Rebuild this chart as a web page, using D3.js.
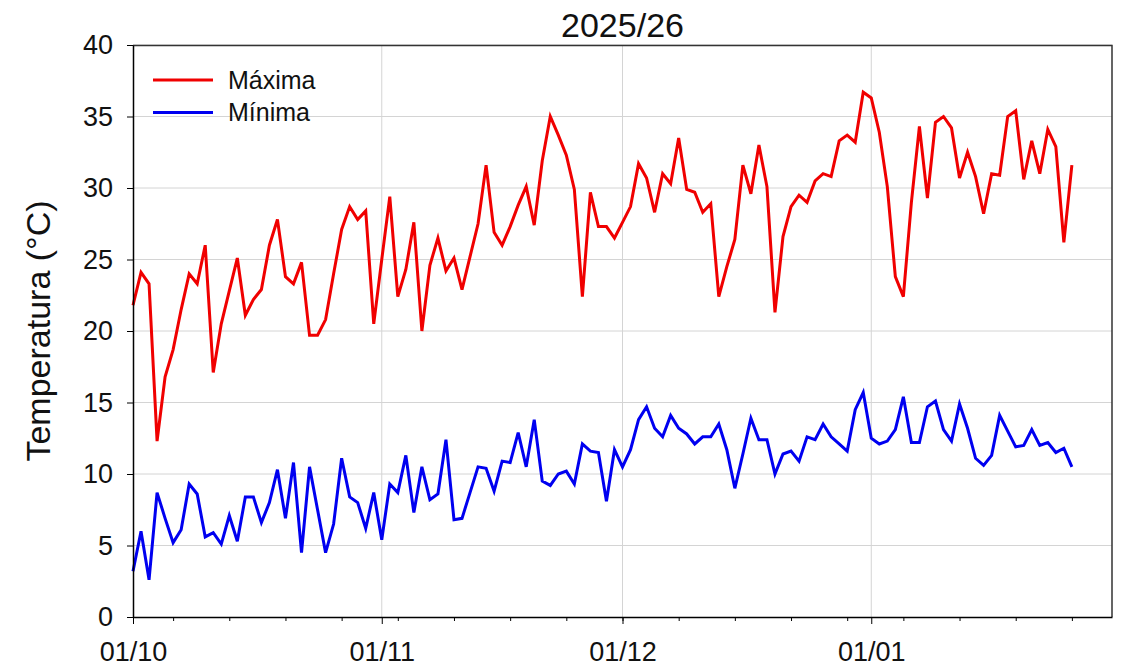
<!DOCTYPE html>
<html>
<head>
<meta charset="utf-8">
<script src="https://cdn.jsdelivr.net/npm/d3@7"></script>
<style>
  body { margin: 0; background: #fff; }
  svg { font-family: "Liberation Sans", Arial, sans-serif; }
  .grid line { stroke: #d4d4d4; stroke-width: 1; }
  .axis path, .axis line { stroke: #000; }
</style>
</head>
<body>
<div id="plotDiv"></div>
<script>
// daily series starting 01/10/2025
var startDate = "2025-10-01";
var endDate = "2026-01-31";

var tmax = [21.8, 24.1, 23.3, 12.3, 16.8, 18.7, 21.5, 24.0, 23.3, 26.0,
            17.1, 20.5, 22.8, 25.1, 21.1, 22.2, 22.9, 26.0, 27.8, 23.8,
            23.3, 24.8, 19.7, 19.7, 20.8, 24.0, 27.1, 28.7, 27.8, 28.4,
            20.5, 25.0, 29.4, 22.4, 24.3, 27.6, 20.0, 24.6, 26.5, 24.2,
            25.1, 22.9, 25.2, 27.5, 31.6, 26.9, 26.0, 27.3, 28.8, 30.1,
            27.4, 31.9, 35.0, 33.7, 32.3, 29.9, 22.4, 29.7, 27.3, 27.3,
            26.5, 27.6, 28.7, 31.7, 30.7, 28.3, 31.0, 30.3, 33.5, 29.9,
            29.7, 28.3, 28.9, 22.4, 24.5, 26.4, 31.6, 29.6, 33.0, 30.1,
            21.3, 26.6, 28.7, 29.5, 29.0, 30.5, 31.0, 30.8, 33.3, 33.7,
            33.2, 36.7, 36.3, 33.9, 30.1, 23.8, 22.4, 29.0, 34.3, 29.3,
            34.6, 35.0, 34.2, 30.7, 32.5, 30.8, 28.2, 31.0, 30.9, 35.0,
            35.4, 30.6, 33.3, 31.0, 34.1, 32.9, 26.2, 31.6];

var tmin = [3.2, 6.0, 2.6, 8.7, 6.9, 5.2, 6.1, 9.3, 8.6, 5.6,
            5.9, 5.1, 7.1, 5.3, 8.4, 8.4, 6.6, 8.0, 10.3, 6.9,
            10.8, 4.5, 10.5, 7.5, 4.5, 6.5, 11.1, 8.4, 8.0, 6.2,
            8.7, 5.4, 9.3, 8.7, 11.3, 7.3, 10.5, 8.2, 8.6, 12.4,
            6.8, 6.9, 8.7, 10.5, 10.4, 8.8, 10.9, 10.8, 12.9, 10.5,
            13.8, 9.5, 9.2, 10.0, 10.2, 9.3, 12.1, 11.6, 11.5, 8.1,
            11.7, 10.5, 11.7, 13.8, 14.7, 13.2, 12.6, 14.1, 13.2, 12.8,
            12.1, 12.6, 12.6, 13.5, 11.7, 9.0, 11.4, 13.9, 12.4, 12.4,
            10.0, 11.4, 11.6, 10.9, 12.6, 12.4, 13.5, 12.6, 12.1, 11.6,
            14.5, 15.7, 12.5, 12.1, 12.3, 13.1, 15.4, 12.2, 12.2, 14.7,
            15.1, 13.1, 12.3, 14.9, 13.2, 11.1, 10.6, 11.3, 14.1, 13.0,
            11.9, 12.0, 13.1, 12.0, 12.2, 11.5, 11.8, 10.5];

var seriesNames = ["Máxima", "Mínima"];
var seriesColors = ["#f00000", "#0000f0"];
var yTicks = [0, 5, 10, 15, 20, 25, 30, 35, 40];
var title = "2025/26";
var yLabel = "Temperatura (°C)";

var width = 1128, height = 671;
var margin = {top: 45, right: 16, bottom: 54, left: 133};
var w = width - margin.left - margin.right;
var h = height - margin.top - margin.bottom;

var t0 = d3.isoParse(startDate + "T00:00:00Z");
var t1 = d3.isoParse(endDate + "T00:00:00Z");
var days = d3.utcDay.range(t0, d3.utcDay.offset(t0, tmax.length));

var x = d3.scaleUtc().domain([t0, t1]).range([0, w]);
var y = d3.scaleLinear().domain([0, 40]).range([h, 0]);

var svg = d3.select("#plotDiv").append("svg")
    .attr("width", width)
    .attr("height", height);

var g = svg.append("g")
    .attr("transform", "translate(" + margin.left + "," + margin.top + ")");

// grid
g.append("g").attr("class", "grid")
  .selectAll("line").data(yTicks.slice(1)).enter().append("line")
    .attr("x1", 0).attr("x2", w)
    .attr("y1", function(d) { return y(d); })
    .attr("y2", function(d) { return y(d); });

g.append("g").attr("class", "grid")
  .selectAll("line").data(d3.utcMonth.range(d3.utcDay.offset(t0, 1), t1)).enter().append("line")
    .attr("y1", 0).attr("y2", h)
    .attr("x1", function(d) { return x(d); })
    .attr("x2", function(d) { return x(d); });

// frame top/right
g.append("path")
    .attr("d", "M0,0.5H" + w + "V" + h)
    .attr("fill", "none")
    .attr("stroke", "#333")
    .attr("stroke-width", 1.5);

// lines
var line = d3.line()
    .x(function(d, i) { return x(days[i]); })
    .y(function(d) { return y(d); });

[tmax, tmin].forEach(function(s, k) {
  g.append("path")
      .datum(s)
      .attr("fill", "none")
      .attr("stroke", seriesColors[k])
      .attr("stroke-width", 3)
      .attr("stroke-linejoin", "miter")
      .attr("d", line);
});

// x axis: weekly minor ticks on Mondays, major at month starts
var xMinor = d3.axisBottom(x)
    .tickValues(d3.utcMonday.range(t0, t1))
    .tickSize(4)
    .tickFormat("");
g.append("g").attr("class", "axis")
    .attr("transform", "translate(0," + h + ")")
    .call(xMinor)
    .select(".domain").remove();

var xAxis = d3.axisBottom(x)
    .tickValues(d3.utcMonth.range(t0, t1))
    .tickSize(7)
    .tickSizeOuter(0)
    .tickPadding(18)
    .tickFormat(d3.utcFormat("%d/%m"));
var gx = g.append("g").attr("class", "axis")
    .attr("transform", "translate(0," + h + ")")
    .call(xAxis);
gx.select(".domain").attr("stroke-width", 1.5);
gx.selectAll("text")
    .attr("font-size", 27)
    .attr("fill", "#111");

var yAxis = d3.axisLeft(y)
    .tickValues(yTicks)
    .tickSize(6)
    .tickSizeOuter(0)
    .tickPadding(14);
var gy = g.append("g").attr("class", "axis").call(yAxis);
gy.select(".domain").attr("stroke-width", 1.5);
gy.selectAll("text")
    .attr("font-size", 27)
    .attr("fill", "#111");

// title and y label
svg.append("text")
    .attr("x", margin.left + w / 2)
    .attr("y", 37)
    .attr("text-anchor", "middle")
    .attr("font-size", 34)
    .attr("fill", "#111")
    .text(title);

svg.append("text")
    .attr("transform", "translate(50," + (margin.top + h / 2) + ") rotate(-90)")
    .attr("text-anchor", "middle")
    .attr("font-size", 34)
    .attr("fill", "#111")
    .text(yLabel);

// legend
var legend = g.append("g").attr("transform", "translate(20,35)");
seriesNames.forEach(function(name, k) {
  var row = legend.append("g").attr("transform", "translate(0," + (k * 32.4) + ")");
  row.append("line")
      .attr("x1", 0).attr("x2", 60)
      .attr("stroke", seriesColors[k])
      .attr("stroke-width", 3);
  row.append("text")
      .attr("x", 75)
      .attr("y", 9)
      .attr("font-size", 25)
      .attr("fill", "#111")
      .text(name);
});
</script>
</body>
</html>
